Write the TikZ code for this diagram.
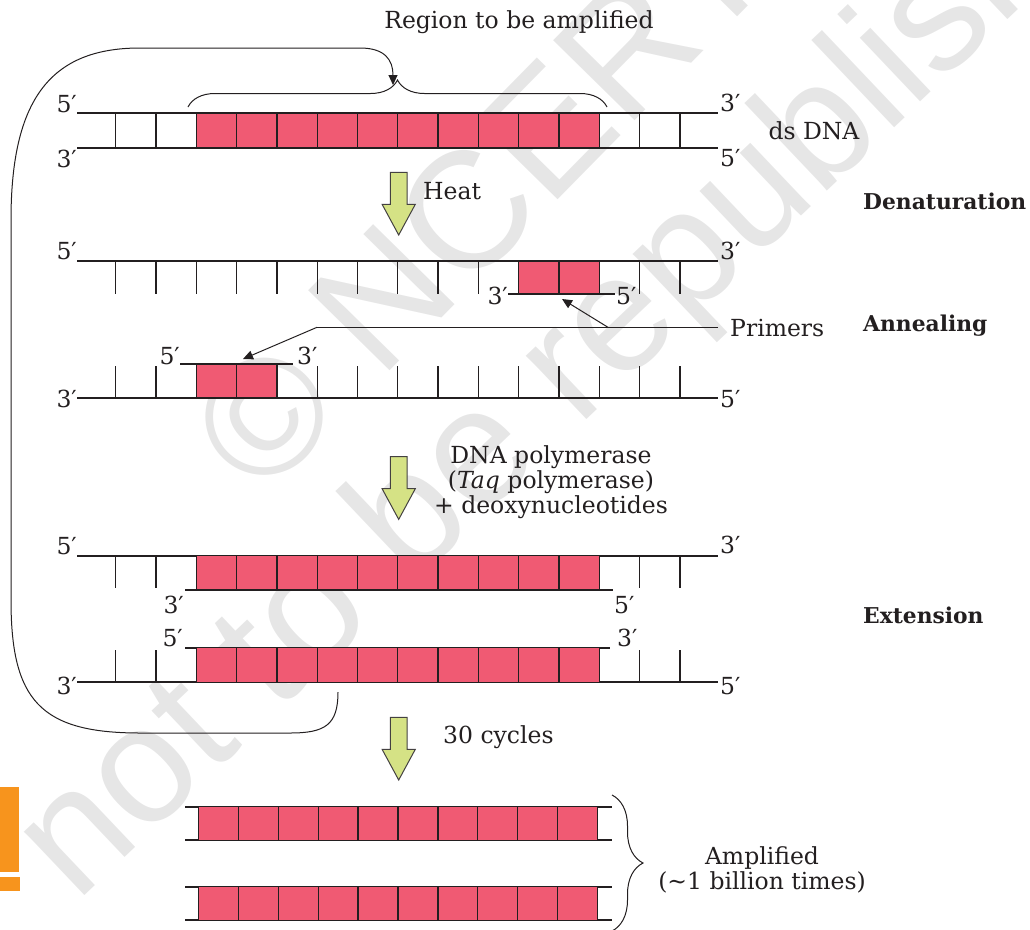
\documentclass[tikz,border=0pt]{standalone}
\usepackage{fontspec}
\setmainfont{DejaVu Serif}
\newfontfamily\wmfont{Liberation Sans}
\usetikzlibrary{arrows.meta,decorations.pathreplacing}
\definecolor{pinkbox}{HTML}{F05A73}
\definecolor{arrowgreen}{HTML}{D5E285}
\definecolor{ink}{HTML}{231F20}
\definecolor{orangebar}{HTML}{F7941D}
\definecolor{wmgrey}{HTML}{E6E6E6}
\begin{document}
\begin{tikzpicture}[x=1pt,y=-1pt,
  strand/.style={draw=ink,line width=2.2pt},
  tickline/.style={draw=ink,line width=1.3pt},
  basebox/.style={fill=pinkbox,draw=ink,line width=1.3pt},
  lbl/.style={font=\fontsize{23.5}{25}\selectfont,inner sep=0pt,text=ink},
  boldlbl/.style={font=\bfseries\fontsize{21.8}{24}\selectfont,inner sep=0pt,text=ink},
  thinline/.style={draw=ink,line width=1pt},
  tipa/.style={-{Triangle[length=10pt,width=9pt]}},
  watermark/.style={font=\wmfont\fontsize{166}{166}\selectfont,text=wmgrey,inner sep=0pt},
  bigarrow/.pic={\draw[fill=arrowgreen,draw=ink!85,line width=1pt,line join=miter]
     (-8.3,0) -- (8.3,0) -- (8.3,32) -- (16.6,32) -- (0,62.7) -- (-16.6,32) -- (-8.3,32) -- cycle;}
]
\useasboundingbox (0,0) rectangle (1030,929);
% watermark
\node[watermark,anchor=base west,rotate=45.5] (wm1) at (262,501) {© NCERT};
\node[watermark,anchor=base west,rotate=43.5] (wm2) at (76,904) {not to be republished};
% orange bar
\fill[orangebar] (0,786.7) rectangle (19,871.7);
\fill[orangebar] (0,876.7) rectangle (20,890.7);

% ---------- ds DNA ----------
\draw[strand] (77,113.3) -- (718,113.3);
\draw[strand] (77,147.7) -- (718,147.7);
\foreach \k in {0,1,13,14} \draw[tickline] ({115.7+40.3*\k},113.3) -- ++(0,34.4);
\foreach \k in {2,...,11} \draw[basebox] ({115.7+40.3*\k},113.3) rectangle ++(40.3,34.4);
\node[lbl,anchor=base east] (l1a) at (77,112) {5′};
\node[lbl,anchor=north east] (l1b) at (77,150) {3′};
\node[lbl,anchor=base west] (l1c) at (720,111) {3′};
\node[lbl,anchor=north west] (l1d) at (720,149) {5′};
\node[lbl] (dsdna) at (814,131) {ds DNA};
\node[lbl] (region) at (519,22) {Region to be amplified};
\draw[thinline,decorate,decoration={brace,amplitude=27pt}] (188,107) -- (607,107);

% ---------- Denaturation ----------
\pic at (398.7,172.3) {bigarrow};
\node[lbl,anchor=west] (heat) at (423,191) {Heat};
\node[boldlbl,anchor=west] (denat) at (863,201) {Denaturation};

\draw[strand] (77,261) -- (718,261);
\foreach \k in {0,...,9,13,14} \draw[tickline] ({115.7+40.3*\k},261) -- ++(0,33);
\foreach \k in {10,11} \draw[basebox] ({115.7+40.3*\k},261) rectangle ++(40.3,33);
\draw[strand] (508,294) -- (615,294);
\node[lbl,anchor=base east] (l2a) at (77,259) {5′};
\node[lbl,anchor=base west] (l2b) at (720,259) {3′};
\node[lbl,anchor=east] (l2c) at (508,296) {3′};
\node[lbl,anchor=west] (l2d) at (616,296) {5′};

% ---------- Annealing ----------
\draw[strand] (77,397.7) -- (718,397.7);
\foreach \k in {0,1,5,6,...,14} \draw[tickline] ({115.7+40.3*\k},397.7) -- ++(0,-32);
\foreach \k in {2,3} \draw[basebox] ({115.7+40.3*\k},364) rectangle ++(40.3,33.7);
\draw[strand] (180,364) -- (293,364);
\node[lbl,anchor=east] (l3a) at (77,399) {3′};
\node[lbl,anchor=west] (l3b) at (720,399) {5′};
\node[lbl,anchor=base east] (l3c) at (180,364) {5′};
\node[lbl,anchor=base west] (l3d) at (297,364) {3′};

\node[lbl,anchor=west] (primers) at (730,328) {Primers};
\node[boldlbl,anchor=west] (anneal) at (863,326) {Annealing};
\coordinate (pstart) at (718,327.3);
\coordinate (pbranch) at (608,327.3);
\coordinate (pbend) at (317,327.3);
\coordinate (ptipa) at (562,299);
\coordinate (ptipb) at (243,359);
\draw[thinline] (pstart) -- (pbranch) -- (pbend);
\draw[thinline,tipa] (pbranch) -- (ptipa);
\draw[thinline,tipa] (pbend) -- (ptipb);

% ---------- Extension ----------
\pic at (398.7,456.7) {bigarrow};
\node[lbl,align=center,anchor=center] (poly) at (551,482) {DNA polymerase\\(\textit{Taq} polymerase)\\+ deoxynucleotides};

\draw[strand] (77,555.7) -- (718,555.7);
\foreach \k in {0,1,13,14} \draw[tickline] ({115.7+40.3*\k},555.7) -- ++(0,32.6);
\foreach \k in {2,...,11} \draw[basebox] ({115.7+40.3*\k},555.7) rectangle ++(40.3,34);
\draw[strand] (185,589.7) -- (613,589.7);
\node[lbl,anchor=base east] (l4a) at (77,554) {5′};
\node[lbl,anchor=base west] (l4b) at (720,553) {3′};
\node[lbl,anchor=north east] (l4c) at (184,596) {3′};
\node[lbl,anchor=north west] (l4d) at (614,596) {5′};

\draw[strand] (185,647.7) -- (610,647.7);
\draw[strand] (77,682.3) -- (718,682.3);
\foreach \k in {0,1,13,14} \draw[tickline] ({115.7+40.3*\k},682.3) -- ++(0,-32.3);
\foreach \k in {2,...,11} \draw[basebox] ({115.7+40.3*\k},647.7) rectangle ++(40.3,34.6);
\node[lbl,anchor=base east] (l5a) at (183,646) {5′};
\node[lbl,anchor=base west] (l5b) at (617,646) {3′};
\node[lbl,anchor=east] (l5c) at (77,686) {3′};
\node[lbl,anchor=west] (l5d) at (720,686) {5′};
\node[boldlbl,anchor=west] (extn) at (863,615) {Extension};

% ---------- feedback loop ----------
\coordinate (loopstart) at (338,692);
\coordinate (looptip) at (393,85);
\draw[thinline,tipa] (loopstart) .. controls (338,725) and (325,733) .. (290,733)
   -- (140,733) .. controls (40,733) and (11,700) .. (11,600)
   -- (11,220) .. controls (11,100) and (50,48) .. (140,48)
   -- (360,48) .. controls (385,48) and (393,60) .. (looptip);

% ---------- 30 cycles ----------
\pic at (398.7,717.3) {bigarrow};
\node[lbl,anchor=west] (cycles) at (443,737) {30 cycles};

% ---------- Amplified ----------
\foreach \yy in {806.7,886.7} {
  \draw[strand] (185,\yy) -- (612,\yy);
  \draw[strand] (185,\yy+33.5) -- (612,\yy+33.5);
  \foreach \k in {0,...,9} \draw[basebox] ({198.7+39.86*\k},\yy) rectangle ++(39.86,33.5);
}
\draw[thinline,decorate,decoration={brace,amplitude=31pt}] (612,795) -- (612,931);
\node[lbl,align=center] (ampl) at (762,870) {Amplified\\(\textasciitilde1 billion times)};
\end{tikzpicture}
\end{document}
